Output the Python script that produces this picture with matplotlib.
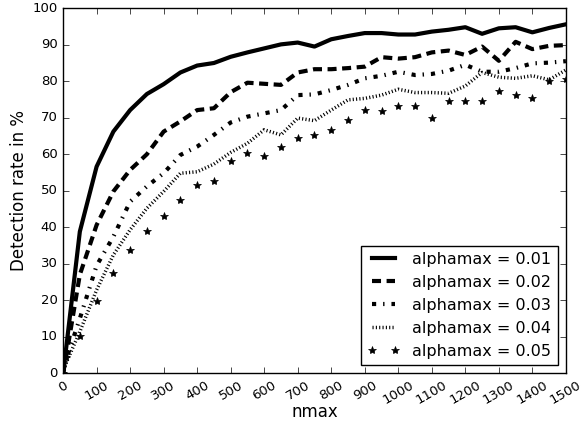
import numpy as np
import matplotlib
matplotlib.use('Agg')
import matplotlib.pyplot as plt

# nmax values of the runs
nmax = [0, 10, 50, 100, 150, 200, 250, 300, 350, 400, 450, 500, 550, 600, 650, 700,
        750, 800, 850, 900, 950, 1000, 1050, 1100, 1150, 1200, 1250, 1300, 1350, 1400,
        1450, 1500]

# detection rate in % for each alphamax
rate_001 = [0, 7.5, 38.8, 56.6, 66.2, 72.1, 76.5, 79.2, 82.4, 84.3, 85.0, 86.7, 87.9,
            89.0, 90.1, 90.6, 89.5, 91.5, 92.4, 93.2, 93.2, 92.8, 92.8, 93.6, 94.1, 94.8,
            93.0, 94.5, 94.8, 93.4, 94.6, 95.6]
rate_002 = [0, 5, 27, 40.6, 49.8, 55.7, 60, 66.2, 69, 72.1, 72.6, 77, 79.6, 79.3, 79.0,
            82.4, 83.3, 83.3, 83.6, 84.0, 86.6, 86.2, 86.6, 87.9, 88.4, 87.2, 89.5, 85.6,
            90.8, 88.8, 89.7, 89.9]
rate_003 = [0, 4, 15, 29.5, 37.4, 47.0, 51.2, 54.8, 59.8, 62.1, 65.3, 68.7, 70.3, 71.2,
            72.1, 76.2, 76.4, 77.6, 79.0, 80.8, 81.5, 82.6, 81.7, 82.0, 82.9, 84.5, 82.6,
            82.6, 83.6, 84.9, 85.1, 85.5]
rate_004 = [0, 3, 11.4, 22.8, 32.4, 39.3, 45.2, 49.8, 54.8, 55.2, 57.3, 60.5, 63.0, 66.7,
            65.3, 69.9, 69.2, 72.1, 74.9, 75.3, 76.2, 77.8, 76.9, 76.9, 76.7, 78.7, 82.4,
            81.1, 80.8, 81.5, 80.4, 83.1]
rate_005 = [0, 4.5, 10.2, 19.8, 27.5, 33.9, 39.1, 43.1, 47.5, 51.6, 52.7, 58.2, 60.3, 59.5,
            62.1, 64.4, 65.3, 66.7, 69.4, 72.1, 71.8, 73.2, 73.2, 69.9, 74.7, 74.7, 74.7,
            77.4, 76.2, 75.3, 80.2, 80.5]

labels = ['alphamax = 0.01', 'alphamax = 0.02', 'alphamax = 0.03',
          'alphamax = 0.04', 'alphamax = 0.05']

plt.style.use('classic')
plt.rcParams['savefig.facecolor'] = 'white'
plt.rcParams['lines.scale_dashes'] = False

fig = plt.figure(figsize=(5.84, 4.34), dpi=100)
fig.patch.set_facecolor('white')
ax = fig.add_axes([0.108, 0.14, 0.861, 0.841])

ax.plot(nmax, rate_001, 'k-', lw=3, label=labels[0])
ax.plot(nmax, rate_002, 'k--', lw=3, dashes=(6.5, 4), label=labels[1])
ax.plot(nmax, rate_003, 'k-.', lw=3, dashes=(3, 5, 1, 5), label=labels[2])
ax.plot(nmax, rate_004, 'k:', lw=2.5, dashes=(0.8, 1.6), label=labels[3])
ax.plot(nmax, rate_005, 'k*', ms=6, label=labels[4])

ax.set_xlim(0, 1500)
ax.set_ylim(0, 100)
ax.set_xticks(np.arange(0, 1501, 100))
ax.set_yticks(np.arange(0, 101, 10))
ax.tick_params(labelsize=9.5)
plt.setp(ax.get_xticklabels(), rotation=30)
ax.set_xlabel('nmax', fontsize=12, labelpad=-3)
ax.set_ylabel('Detection rate in %', fontsize=12, labelpad=3)

leg = ax.legend(loc='lower right', fontsize=11.5, numpoints=2)

fig.savefig('out.png', dpi=100)
